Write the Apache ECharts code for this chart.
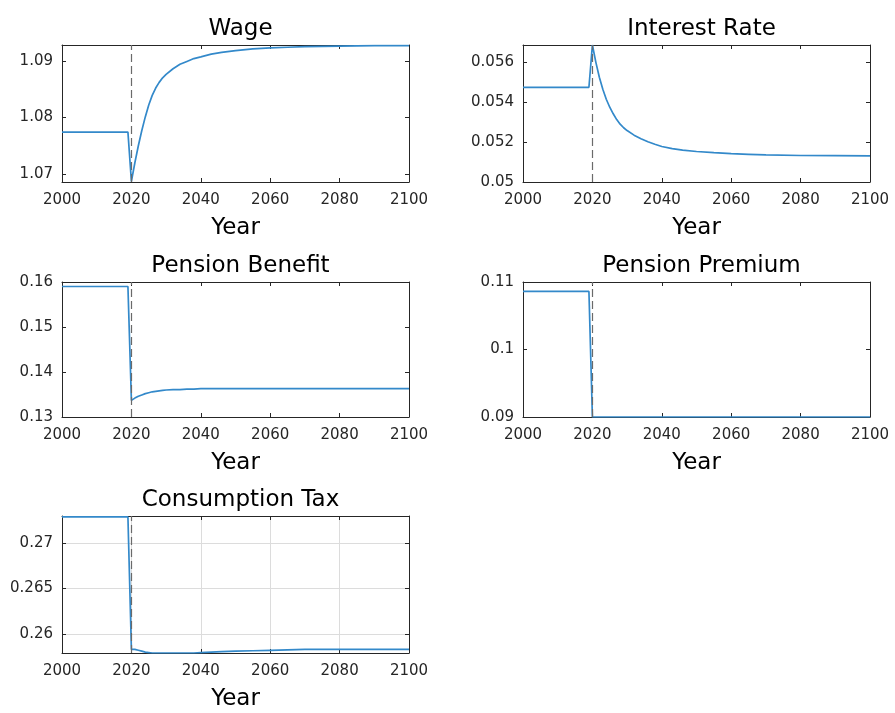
<!DOCTYPE html>
<html>
<head>
<meta charset="utf-8">
<script src="https://cdn.jsdelivr.net/npm/echarts@6/dist/echarts.min.js"></script>
<style>
  html, body { margin: 0; padding: 0; background: #fff; }
  #chart { width: 895px; height: 713px; }
</style>
</head>
<body>
<div id="chart"></div>
<script>
// Simulated transition paths, 2000-2100 (reform in 2020)
const years = [2000, 2019, 2020, 2021, 2022, 2023, 2024, 2025, 2026, 2027, 2028, 2029, 2030, 2032, 2034, 2036, 2038, 2040, 2043, 2046, 2050, 2055, 2060, 2065, 2070, 2080, 2090, 2100];

const wage = [1.0774, 1.0774, 1.0687, 1.0720, 1.0750, 1.0777, 1.0801, 1.0822, 1.0839, 1.0852, 1.0862, 1.0870, 1.0876, 1.0886, 1.0894, 1.0899, 1.0904, 1.0907, 1.0912, 1.0915, 1.0918, 1.0921, 1.0923, 1.0924, 1.0925, 1.0926, 1.0927, 1.0927];
const interestRate = [0.05475, 0.05475, 0.05687, 0.05600, 0.05525, 0.05465, 0.05415, 0.05375, 0.05342, 0.05313, 0.05290, 0.05272, 0.05258, 0.05235, 0.05217, 0.05202, 0.05189, 0.05178, 0.05167, 0.05160, 0.05153, 0.05147, 0.05142, 0.05139, 0.05136, 0.05133, 0.05132, 0.05131];
const pensionBenefit = [0.1590, 0.1590, 0.1337, 0.1342, 0.1346, 0.1349, 0.1352, 0.1354, 0.1356, 0.1357, 0.1358, 0.1359, 0.1360, 0.1361, 0.1361, 0.1362, 0.1362, 0.1363, 0.1363, 0.1363, 0.1363, 0.1363, 0.1363, 0.1363, 0.1363, 0.1363, 0.1363, 0.1363];
const pensionPremium = [0.1086, 0.1086, 0.0900, 0.0900, 0.0900, 0.0900, 0.0900, 0.0900, 0.0900, 0.0900, 0.0900, 0.0900, 0.0900, 0.0900, 0.0900, 0.0900, 0.0900, 0.0900, 0.0900, 0.0900, 0.0900, 0.0900, 0.0900, 0.0900, 0.0900, 0.0900, 0.0900, 0.0900];
const consumptionTax = [0.2729, 0.2729, 0.2583, 0.2583, 0.2582, 0.2581, 0.2580, 0.25795, 0.2579, 0.2579, 0.2579, 0.2579, 0.2579, 0.2579, 0.2579, 0.2579, 0.2579, 0.25795, 0.2580, 0.25805, 0.2581, 0.25815, 0.2582, 0.25825, 0.2583, 0.2583, 0.2583, 0.2583];

const xTicks = [2000, 2020, 2040, 2060, 2080, 2100];
const reformYear = 2020;

const panels = [
  { title: 'Wage', values: wage, yMin: 1.0686, yMax: 1.0928, yTicks: [1.07, 1.08, 1.09], grid: false },
  { title: 'Interest Rate', values: interestRate, yMin: 0.05, yMax: 0.05687, yTicks: [0.05, 0.052, 0.054, 0.056], grid: false },
  { title: 'Pension Benefit', values: pensionBenefit, yMin: 0.13, yMax: 0.16, yTicks: [0.13, 0.14, 0.15, 0.16], grid: false },
  { title: 'Pension Premium', values: pensionPremium, yMin: 0.09, yMax: 0.11, yTicks: [0.09, 0.1, 0.11], grid: false },
  { title: 'Consumption Tax', values: consumptionTax, yMin: 0.2579, yMax: 0.2730, yTicks: [0.26, 0.265, 0.27], grid: true }
];

const boxes = [
  { left: 62, top: 45, width: 347, height: 137 },
  { left: 523, top: 45, width: 347, height: 137 },
  { left: 62, top: 282, width: 347, height: 135 },
  { left: 523, top: 282, width: 347, height: 135 },
  { left: 62, top: 516, width: 347, height: 137 }
];

const FONT = '"DejaVu Sans", "Noto Sans", sans-serif';
const INK = '#262626';
const axisLine = { show: true, lineStyle: { color: INK, width: 1 } };
const tickStyle = { inside: true, length: 4, lineStyle: { color: INK, width: 1 } };
const gridLine = (on) => ({ show: on, lineStyle: { color: '#dcdcdc', width: 1 } });

const option = { animation: false, backgroundColor: '#fff', title: [], grid: [], xAxis: [], yAxis: [], series: [] };

panels.forEach((p, i) => {
  const b = boxes[i];
  option.grid.push({ left: b.left, top: b.top, width: b.width, height: b.height, containLabel: false });
  option.title.push({
    text: p.title, left: b.left + b.width / 2, top: b.top - 32, textAlign: 'center',
    textStyle: { fontFamily: FONT, fontSize: 23, fontWeight: 'normal', color: '#000' }
  });
  // bottom and top x axes
  option.xAxis.push({
    type: 'value', gridIndex: i, position: 'bottom', min: 2000, max: 2100, interval: 20,
    name: 'Year', nameLocation: 'middle', nameGap: 35,
    nameTextStyle: { fontFamily: FONT, fontSize: 23, color: '#000', verticalAlign: 'top' },
    axisLine: axisLine, axisTick: Object.assign({ customValues: xTicks }, tickStyle),
    axisLabel: { customValues: xTicks, formatter: (v) => String(v), fontFamily: FONT, fontSize: 15, color: INK, margin: 11 },
    splitLine: gridLine(p.grid)
  });
  option.xAxis.push({
    type: 'value', gridIndex: i, position: 'top', min: 2000, max: 2100, interval: 20,
    axisLine: axisLine, axisTick: Object.assign({ customValues: xTicks }, tickStyle),
    axisLabel: { show: false }, splitLine: { show: false }
  });
  // left and right y axes
  option.yAxis.push({
    type: 'value', gridIndex: i, position: 'left', min: p.yMin, max: p.yMax,
    axisLine: axisLine, axisTick: Object.assign({ customValues: p.yTicks }, tickStyle),
    axisLabel: { customValues: p.yTicks, fontFamily: FONT, fontSize: 15, color: INK, margin: 9 },
    splitLine: gridLine(p.grid)
  });
  option.yAxis.push({
    type: 'value', gridIndex: i, position: 'right', min: p.yMin, max: p.yMax,
    axisLine: axisLine, axisTick: Object.assign({ customValues: p.yTicks }, tickStyle),
    axisLabel: { show: false }, splitLine: { show: false }
  });
  option.series.push({
    type: 'line', xAxisIndex: 2 * i, yAxisIndex: 2 * i,
    data: years.map((y, k) => [y, p.values[k]]),
    showSymbol: false, smooth: false, clip: true,
    lineStyle: { color: '#3389ca', width: 1.7 },
    markLine: {
      silent: true, symbol: 'none', label: { show: false },
      lineStyle: { color: '#6a6a6a', width: 1.2, type: [8, 4] },
      data: [{ xAxis: reformYear }]
    }
  });
});

const chart = echarts.init(document.getElementById('chart'), null, { renderer: 'canvas' });
chart.setOption(option);
</script>
</body>
</html>
